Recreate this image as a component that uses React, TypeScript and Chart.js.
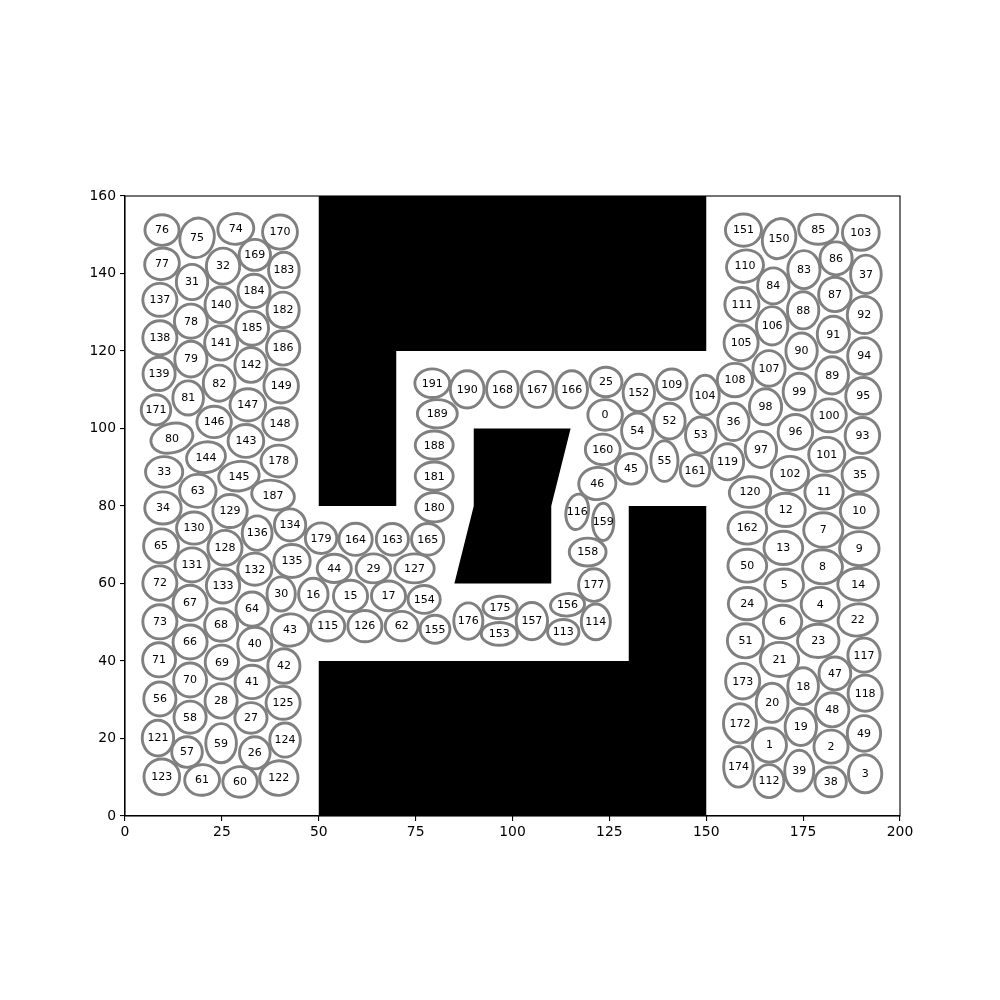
import React, { useEffect, useRef } from "react";
import { Chart, registerables } from "chart.js";

Chart.register(...registerables);

// ---- ellipse cells (index = label) ----
const cellX = [
  123.9, 166.3, 182.2, 191.0, 179.4, 170.1, 169.7, 180.2, 180.0, 189.5,
  189.5, 180.4, 170.5, 169.9, 189.2, 58.2, 48.6, 68.0, 175.0, 174.4,
  167.0, 168.9, 189.1, 178.9, 160.6, 124.1, 33.5, 32.5, 24.8, 64.1,
  40.3, 17.3, 25.3, 10.1, 9.8, 189.7, 157.0, 191.2, 182.1, 174.0,
  33.5, 32.8, 41.0, 42.6, 54.0, 130.6, 121.9, 183.2, 182.5, 190.7,
  160.6, 160.1, 140.5, 148.6, 132.2, 139.2, 9.0, 16.0, 16.8, 24.8,
  29.7, 19.9, 71.4, 18.8, 32.8, 9.3, 16.8, 16.8, 24.8, 25.0,
  16.8, 8.8, 9.0, 9.0, 28.6, 18.6, 9.55, 9.55, 17.0, 17.0,
  12.1, 16.3, 24.3, 175.2, 167.3, 178.9, 183.5, 183.2, 175.0, 182.5,
  174.6, 182.8, 190.8, 190.3, 190.8, 190.5, 173.0, 164.1, 165.3, 174.0,
  181.7, 181.1, 171.6, 189.9, 149.7, 159.0, 167.0, 166.2, 157.4, 141.1,
  160.0, 159.2, 166.2, 113.1, 121.5, 52.3, 116.7, 190.7, 191.0, 155.5,
  161.3, 8.5, 39.7, 9.5, 41.3, 40.8, 61.9, 74.7, 25.8, 27.1,
  17.8, 17.3, 33.5, 25.3, 42.6, 43.1, 34.1, 9.0, 9.0, 8.8,
  24.8, 24.8, 32.5, 31.2, 20.9, 29.4, 23.0, 31.7, 40.0, 40.3,
  168.8, 159.6, 132.6, 96.6, 77.2, 80.0, 114.2, 105.0, 119.4, 123.4,
  123.3, 147.1, 160.6, 69.0, 59.5, 78.1, 115.3, 106.4, 97.4, 33.5,
  40.0, 8.0, 158.7, 159.4, 158.3, 96.8, 88.6, 121.0, 39.7, 50.6,
  79.8, 79.8, 40.8, 41.0, 33.3, 32.8, 40.8, 38.2, 79.8, 80.6,
  88.3, 79.3,
];
const cellY = [
  103.5, 18.3, 17.9, 10.9, 54.6, 59.6, 50.1, 73.8, 64.3, 69.0,
  78.7, 83.6, 79.0, 69.2, 59.8, 56.8, 57.2, 56.8, 33.5, 23.0,
  29.2, 40.4, 50.6, 45.2, 54.8, 112.0, 16.3, 25.3, 29.7, 63.9,
  57.3, 137.8, 141.9, 88.8, 79.5, 88.1, 101.7, 139.8, 8.8, 11.7,
  44.4, 34.6, 38.7, 48.0, 63.9, 89.6, 85.8, 36.8, 27.4, 21.3,
  64.6, 45.2, 101.9, 98.3, 99.4, 91.6, 30.2, 16.5, 25.5, 18.8,
  8.8, 9.3, 49.0, 83.9, 53.4, 69.7, 44.9, 55.0, 49.3, 39.7,
  35.1, 40.3, 60.1, 50.1, 151.5, 149.2, 151.2, 142.5, 127.7, 117.9,
  97.5, 107.9, 111.7, 141.0, 136.8, 151.4, 143.9, 134.6, 130.5, 113.7,
  120.0, 124.3, 129.3, 98.2, 118.7, 108.4, 99.1, 94.6, 105.6, 109.5,
  103.4, 93.3, 88.4, 150.5, 108.6, 122.1, 126.5, 115.5, 112.5, 111.4,
  141.9, 132.0, 9.0, 47.5, 50.1, 49.0, 78.5, 41.5, 31.7, 91.4,
  83.6, 20.1, 9.8, 10.1, 19.6, 29.2, 49.0, 63.9, 69.2, 78.7,
  74.3, 64.8, 63.7, 59.4, 75.1, 65.8, 73.0, 133.2, 123.4, 114.1,
  131.9, 122.1, 116.4, 96.8, 92.6, 87.7, 101.7, 106.1, 101.2, 111.0,
  149.0, 151.2, 109.2, 47.0, 55.9, 48.2, 54.5, 50.3, 68.1, 75.9,
  94.6, 89.2, 74.3, 71.4, 71.4, 71.4, 110.1, 110.1, 110.1, 144.8,
  150.7, 104.8, 23.9, 34.8, 12.7, 53.8, 50.3, 59.6, 91.6, 71.7,
  79.7, 87.7, 130.6, 140.9, 135.5, 125.9, 120.8, 82.8, 95.7, 103.8,
  110.1, 111.7,
];
const cellW = [
  9.6, 9.5, 9.5, 9.3, 10.5, 10.7, 10.6, 10.8, 11.0, 10.9,
  10.5, 10.6, 10.8, 10.7, 11.2, 9.5, 8.3, 9.5, 8.6, 8.8,
  8.9, 10.6, 10.9, 11.4, 10.5, 9.0, 8.6, 9.0, 9.0, 9.6,
  8.0, 8.8, 9.3, 10.3, 10.1, 10.0, 8.8, 8.6, 8.8, 8.2,
  9.5, 9.5, 9.0, 10.3, 9.5, 8.8, 10.3, 8.9, 9.3, 9.3,
  10.7, 10.0, 8.8, 8.6, 8.8, 7.7, 9.0, 8.6, 9.0, 8.6,
  9.6, 9.7, 9.2, 10.1, 9.0, 9.7, 9.5, 9.5, 9.2, 9.3,
  9.2, 9.2, 9.5, 9.5, 10.0, 9.5, 9.5, 9.7, 9.2, 9.0,
  11.7, 8.6, 8.9, 9.0, 8.8, 10.8, 9.0, 9.1, 8.8, 9.1,
  8.8, 9.0, 9.5, 9.6, 9.3, 9.7, 9.6, 8.8, 9.0, 9.0,
  9.6, 10.0, 10.3, 10.2, 8.0, 9.5, 8.8, 9.0, 9.8, 8.6,
  10.3, 9.5, 8.4, 8.8, 8.2, 9.5, 6.5, 9.0, 9.5, 9.0,
  11.4, 8.8, 10.6, 9.9, 8.6, 9.5, 9.5, 10.9, 9.5, 9.6,
  9.7, 9.5, 9.5, 9.3, 8.8, 10.1, 8.4, 9.5, 9.5, 9.0,
  9.0, 9.2, 9.0, 9.9, 10.8, 11.2, 9.6, 9.9, 9.6, 9.6,
  9.2, 10.0, 8.8, 10.0, 9.0, 8.4, 9.5, 8.8, 10.2, 6.2,
  9.7, 8.3, 10.7, 9.0, 9.3, 9.0, 8.8, 9.0, 8.9, 8.8,
  9.7, 8.3, 9.2, 9.5, 8.3, 9.5, 8.2, 8.6, 9.9, 8.8,
  10.3, 10.5, 9.0, 8.6, 9.0, 9.2, 9.3, 11.8, 10.5, 11.0,
  9.4, 9.7,
];
const cellH = [
  8.6, 9.5, 9.2, 10.5, 9.5, 9.0, 9.3, 9.6, 9.5, 9.5,
  9.5, 9.5, 9.3, 9.3, 9.0, 8.8, 9.0, 8.4, 10.2, 10.3,
  10.8, 9.5, 9.0, 9.3, 9.0, 8.3, 9.0, 8.6, 9.6, 8.2,
  9.5, 9.8, 10.0, 8.6, 9.0, 9.6, 10.3, 10.6, 8.4, 11.2,
  9.3, 9.3, 9.6, 9.0, 8.0, 8.6, 9.0, 9.2, 9.5, 9.9,
  9.2, 9.5, 9.9, 10.0, 9.9, 11.2, 9.5, 8.6, 9.0, 10.8,
  8.6, 8.6, 8.3, 9.2, 9.5, 9.5, 9.5, 9.8, 9.1, 9.5,
  9.5, 9.5, 9.6, 9.5, 8.6, 11.0, 8.6, 8.8, 9.5, 9.9,
  8.2, 9.5, 10.0, 10.5, 10.0, 8.4, 9.2, 9.6, 10.3, 10.3,
  10.0, 10.0, 10.3, 10.0, 10.2, 10.2, 9.7, 10.0, 10.0, 10.2,
  9.2, 9.5, 9.5, 9.7, 11.0, 9.9, 10.6, 9.9, 9.3, 8.6,
  9.0, 9.5, 9.2, 7.1, 9.9, 8.4, 9.9, 9.5, 10.0, 10.0,
  8.6, 9.9, 9.6, 9.9, 9.5, 9.2, 8.8, 8.2, 9.7, 9.2,
  9.0, 9.5, 9.0, 9.6, 9.0, 9.2, 9.6, 9.2, 9.5, 9.3,
  9.9, 9.6, 9.7, 9.2, 8.6, 8.3, 8.8, 9.0, 9.0, 9.5,
  11.2, 9.0, 10.3, 6.6, 7.9, 7.9, 6.5, 10.3, 7.9, 10.3,
  8.6, 8.8, 9.0, 8.9, 9.0, 8.9, 10.3, 10.0, 10.0, 8.7,
  9.5, 8.5, 10.8, 9.9, 11.2, 6.5, 10.1, 9.1, 8.9, 8.6,
  8.3, 8.0, 9.9, 9.9, 9.3, 9.5, 9.6, 8.3, 8.0, 8.0,
  10.3, 8.1,
];
const cellAngle = [
  0, 0, 0, 0, 0, 0, 0, 0, 0, 0,
  0, 0, 0, 0, 0, 0, 0, 0, 0, 0,
  0, 0, 10, 0, 0, 0, 0, 0, 0, 0,
  0, 0, 0, 0, 0, 0, 0, 0, 0, 0,
  0, 0, 0, 5, 0, 0, 5, 0, 0, 0,
  0, 0, 0, 0, 0, 0, 0, 0, 0, 0,
  0, 5, 0, 0, 0, 0, 0, 0, 0, 0,
  0, 0, 0, 0, 10, -15, 0, 15, 0, 0,
  15, 0, 0, 0, 0, 0, 0, 0, 0, 0,
  0, 0, 0, 0, 0, 0, 0, 0, 0, 0,
  0, 0, 0, 0, 0, 0, 0, 0, 0, 0,
  15, 0, 0, 0, 0, 0, -8, 0, 0, 0,
  5, 0, 8, 0, 0, 0, 0, 0, 0, 0,
  0, 0, 0, 0, 0, 0, 0, 0, 0, 0,
  0, 0, 0, 0, 10, 8, 0, 0, 0, 0,
  -15, 0, 0, 0, 0, 0, 5, 0, 0, 0,
  0, 0, 0, 0, 0, 0, 0, 0, 0, 0,
  0, 0, 0, 0, 0, 0, 0, 0, 0, 0,
  0, 0, 0, 0, 0, 0, 0, -10, 0, 0,
  0, 0,
];

// ---- obstacles (polygon vertices) ----
const wallTopX = [50, 150, 150, 70, 70, 50, 50];
const wallTopY = [160, 160, 120, 120, 80, 80, 160];
const wallBottomX = [50, 150, 150, 130, 130, 50, 50];
const wallBottomY = [0, 0, 80, 80, 40, 40, 0];
const wallMidX = [90, 115, 110, 110, 85, 90, 90];
const wallMidY = [100, 100, 80, 60, 60, 80, 100];

// ---- axes ----
const xTicks = [0, 25, 50, 75, 100, 125, 150, 175, 200];
const yTicks = [0, 20, 40, 60, 80, 100, 120, 140, 160];

const toPts = (xs: number[], ys: number[]) => xs.map((x, i) => ({ x, y: ys[i] }));

const ellipsePlugin = {
  id: "ellipseCells",
  afterDatasetsDraw(chart: any) {
    const ctx = chart.ctx;
    const sx = chart.scales.x;
    const sy = chart.scales.y;
    const kx = Math.abs(sx.getPixelForValue(1) - sx.getPixelForValue(0));
    const ky = Math.abs(sy.getPixelForValue(1) - sy.getPixelForValue(0));
    const inset = 0.7;
    ctx.save();
    ctx.lineWidth = 2.9;
    ctx.strokeStyle = "#808080";
    for (let i = 0; i < cellX.length; i++) {
      const px = sx.getPixelForValue(cellX[i]);
      const py = sy.getPixelForValue(cellY[i]);
      ctx.beginPath();
      ctx.ellipse(
        px,
        py,
        Math.max(1, ((cellW[i] - inset) / 2) * kx),
        Math.max(1, ((cellH[i] - inset) / 2) * ky),
        (-cellAngle[i] * Math.PI) / 180,
        0,
        Math.PI * 2
      );
      ctx.stroke();
    }
    ctx.fillStyle = "#000";
    ctx.font = '11px "DejaVu Sans"';
    ctx.textAlign = "center";
    ctx.textBaseline = "middle";
    for (let i = 0; i < cellX.length; i++) {
      const px = sx.getPixelForValue(cellX[i]);
      const py = sy.getPixelForValue(cellY[i]);
      ctx.fillText(String(i), px, py + 0.5);
    }
    ctx.restore();
  },
  afterDraw(chart: any) {
    const { left, right, top, bottom } = chart.chartArea;
    const ctx = chart.ctx;
    ctx.save();
    ctx.strokeStyle = "#000";
    ctx.lineWidth = 1.1;
    ctx.strokeRect(left, top, right - left, bottom - top);
    ctx.restore();
  },
};

export default function App() {
  const ref = useRef<HTMLCanvasElement | null>(null);
  useEffect(() => {
    if (!ref.current) return;
    const wallStyle = {
      showLine: true,
      fill: "shape",
      backgroundColor: "#000",
      borderColor: "#000",
      borderWidth: 0,
      pointRadius: 0,
      tension: 0,
    };
    const chart = new Chart(ref.current, {
      type: "scatter",
      data: {
        datasets: [
          { ...wallStyle, label: "wallTop", data: toPts(wallTopX, wallTopY) } as any,
          { ...wallStyle, label: "wallBottom", data: toPts(wallBottomX, wallBottomY) } as any,
          { ...wallStyle, label: "wallMid", data: toPts(wallMidX, wallMidY) } as any,
          { label: "cells", data: toPts(cellX, cellY), pointRadius: 0, showLine: false } as any,
        ],
      },
      options: {
        responsive: false,
        animation: false,
        layout: { padding: { left: 0, top: 196, right: 100, bottom: 0 } },
        plugins: { legend: { display: false }, tooltip: { enabled: false } },
        scales: {
          x: {
            type: "linear",
            min: 0,
            max: 200,
            afterFit: (s: any) => {
              s.height = 184;
            },
            afterBuildTicks: (s: any) => {
              s.ticks = xTicks.map((v) => ({ value: v }));
            },
            ticks: {
              color: "#000",
              font: { family: "DejaVu Sans", size: 13.9 },
              padding: 3,
              maxRotation: 0,
              callback: (v: any) => String(v),
            },
            grid: { drawOnChartArea: false, drawTicks: true, tickLength: 5, color: "#000", lineWidth: 1.1 },
            border: { display: true, color: "#000", width: 1.1 },
          },
          y: {
            type: "linear",
            min: 0,
            max: 160,
            afterFit: (s: any) => {
              s.width = 125;
            },
            afterBuildTicks: (s: any) => {
              s.ticks = yTicks.map((v) => ({ value: v }));
            },
            ticks: {
              color: "#000",
              font: { family: "DejaVu Sans", size: 13.9 },
              padding: 4,
              callback: (v: any) => String(v),
            },
            grid: { drawOnChartArea: false, drawTicks: true, tickLength: 5, color: "#000", lineWidth: 1.1 },
            border: { display: true, color: "#000", width: 1.1 },
          },
        },
      },
      plugins: [ellipsePlugin],
    });
    return () => chart.destroy();
  }, []);
  return (
    <div style={{ position: "absolute", left: 0, top: 0, width: 1000, height: 1000, background: "#fff" }}>
      <canvas ref={ref} width={1000} height={1000} style={{ display: "block" }} />
    </div>
  );
}
